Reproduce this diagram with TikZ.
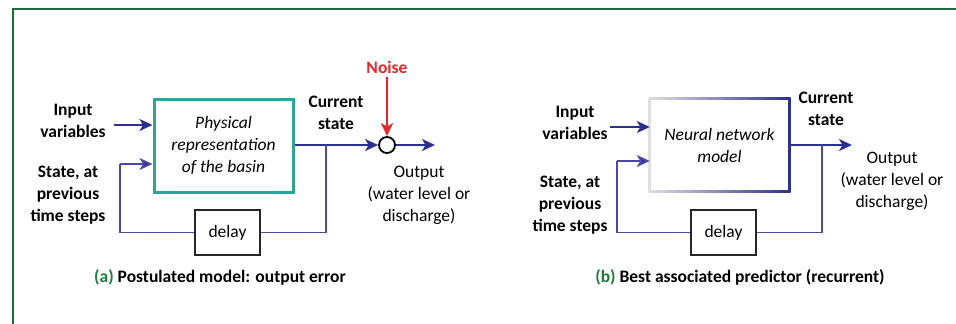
\documentclass[tikz,border=0pt]{standalone}
\usepackage{fontspec}
\setmainfont{Carlito}
\usetikzlibrary{arrows.meta,backgrounds}
\definecolor{navy}{HTML}{2B2F8F}
\definecolor{fbblue}{HTML}{4A4AA6}
\definecolor{teal2}{HTML}{2EA39B}
\definecolor{frameg}{HTML}{1B6B32}
\definecolor{capg}{HTML}{1E7B3A}
\definecolor{noisered}{HTML}{E5262A}
\tikzset{
  txt/.style={align=center, inner sep=0pt, font=\fontsize{17.5}{22}\selectfont},
  btxt/.style={txt, font=\fontsize{17.5}{22}\selectfont\bfseries},
  arr/.style={draw=navy, line width=2pt, -{Stealth[length=13pt,width=12pt,inset=3.5pt]}},
  fbline/.style={draw=fbblue, line width=1.7pt},
  fbarr/.style={fbline, -{Stealth[length=13pt,width=12pt,inset=3.5pt,fill=navy]}},
  delaybox/.style={draw=black!85, line width=1.8pt, minimum width=65pt, minimum height=45pt, inner sep=0pt, font=\fontsize{17.5}{22}\selectfont},
}
\begin{document}
\begin{tikzpicture}[x=1pt,y=-1pt]
\useasboundingbox (0,0) rectangle (956,324);
\clip (0,0) rectangle (956,324);
% frame
\draw[frameg, line width=2.5pt] (13,330) -- (13,9) -- (965,9);

% ---------------- panel (a)
\node[draw=teal2, line width=3pt, minimum width=139pt, minimum height=93pt, inner sep=0pt,
      txt, font=\fontsize{17.5}{22}\selectfont\itshape] (phys) at (223.5,145.5)
      {Physical\\representation\\of the basin};
\node[btxt] (inA) at (73,121) {Input\\variables};
\node[btxt] (stA) at (68,195) {State, at\\previous\\time steps};
\node[btxt] (curA) at (336,112.5) {Current\\state};
\node[btxt, text=noisered] (noise) at (387,67) {Noise};
\node[draw=black, line width=1.8pt, circle, minimum size=16pt, inner sep=0pt] (sum) at (387,145) {};
\node[txt] (outA) at (419,195) {Output\\(water level or\\discharge)};
\node[delaybox] (delA) at (227.5,232.5) {delay};
\node[btxt] (capA) at (220,277) {\textcolor{capg}{(a)} Postulated model: output error};

\coordinate (inAs) at (114,125);
\coordinate (fbA) at (120,164);
\coordinate (brA) at (326,145);
\coordinate (oA) at (435,145);

\draw[arr] (inAs) -- (inAs -| phys.west);
\draw[fbline] (delA.west) -| (fbA);
\draw[fbarr] (fbA) -- (fbA -| phys.west);
\draw[arr] (phys.east |- brA) -- (sum.west);
\draw[fbline] (brA) |- (delA.east);
\draw[arr] (sum.east) -- (oA);
\draw[draw=noisered, line width=2pt, -{Stealth[length=13pt,width=12pt,inset=3.5pt]}] (noise.south) ++(0,4) -- (sum.north);

% ---------------- panel (b)
\node[minimum width=139pt, minimum height=92pt, inner sep=0pt,
      txt, font=\fontsize{17.5}{22}\selectfont\itshape] (nn) at (719.5,145)
      {Neural network\\model};
\begin{scope}[on background layer]
  \shade[left color=black!12, right color=navy, shading angle=90]
    ([shift={(-1.5,1.5)}]nn.south west) rectangle ([shift={(1.5,-1.5)}]nn.north east);
  \fill[white] ([shift={(1.5,-1.5)}]nn.south west) rectangle ([shift={(-1.5,1.5)}]nn.north east);
\end{scope}
\node[btxt] (inB) at (575,123) {Input\\variables};
\node[btxt] (stB) at (570,205.5) {State, at\\previous\\time steps};
\node[btxt] (curB) at (826,108.5) {Current\\state};
\node[txt] (outB) at (892,181) {Output\\(water level or\\discharge)};
\node[delaybox] (delB) at (723.5,232.5) {delay};
\node[btxt] (capB) at (740,277) {\textcolor{capg}{(b)} Best associated predictor (recurrent)};

\coordinate (inBs) at (610,127);
\coordinate (fbB) at (617,161);
\coordinate (brB) at (822,145);
\coordinate (oB) at (852,145);

\draw[arr] (inBs) -- (inBs -| nn.west);
\draw[fbline] (delB.west) -| (fbB);
\draw[fbarr] (fbB) -- (fbB -| nn.west);
\draw[arr] (nn.east |- brB) -- (oB);
\draw[fbline] (brB) |- (delB.east);
\end{tikzpicture}
\end{document}
